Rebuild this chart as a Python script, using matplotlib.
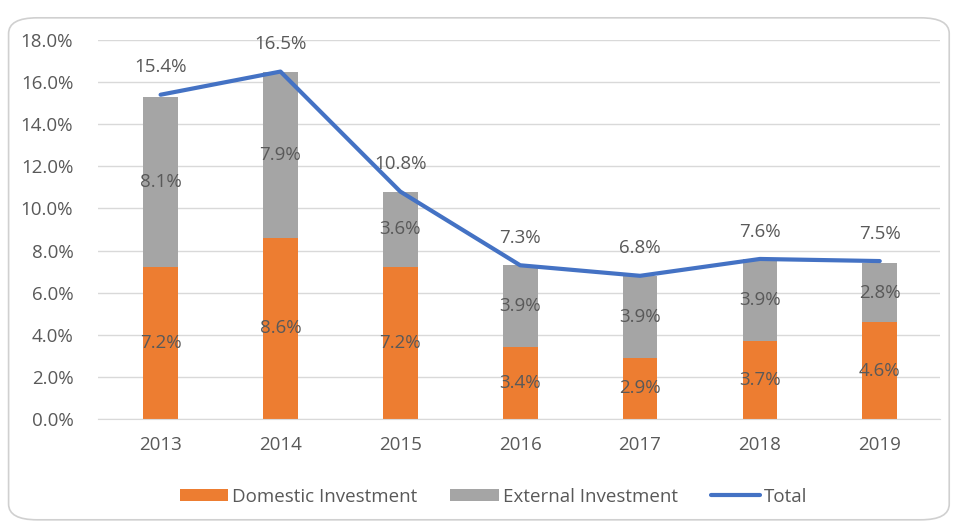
import numpy as np
import matplotlib.pyplot as plt
from matplotlib.patches import FancyBboxPatch

years = ["2013", "2014", "2015", "2016", "2017", "2018", "2019"]
domestic = [7.2, 8.6, 7.2, 3.4, 2.9, 3.7, 4.6]
external = [8.1, 7.9, 3.6, 3.9, 3.9, 3.9, 2.8]
total = [15.4, 16.5, 10.8, 7.3, 6.8, 7.6, 7.5]

orange = "#ED7D31"
grey = "#A5A5A5"
blue = "#4472C4"
txt = "#595959"
fs = 13.5

plt.rcParams["font.family"] = ["Open Sans", "DejaVu Sans"]

fig = plt.figure(figsize=(9.54, 5.24), dpi=100)
# rounded chart frame, kept behind the axes
frame = FancyBboxPatch((0.009, 0.008), 0.986, 0.958, boxstyle="round,pad=0,rounding_size=0.03",
                       transform=fig.transFigure, fc="none", ec="#D0D0D0", lw=1.2, zorder=-1)
fig.patches.append(frame)

ax = fig.add_axes([0.103, 0.2004, 0.882, 0.7233])
ax.set_facecolor("none")
x = np.arange(len(years))
w = 0.29
b1 = ax.bar(x, domestic, w, color=orange, label="Domestic Investment", zorder=2)
b2 = ax.bar(x, external, w, bottom=domestic, color=grey, label="External Investment", zorder=2)
ln, = ax.plot(x, total, color=blue, lw=3, label="Total", zorder=3, solid_capstyle="round")

for i in range(len(years)):
    ax.text(x[i], domestic[i] / 2, f"{domestic[i]:.1f}%", ha="center", va="center",
            fontsize=fs, color=txt, zorder=4)
    ax.text(x[i], domestic[i] + external[i] / 2, f"{external[i]:.1f}%", ha="center",
            va="center", fontsize=fs, color=txt, zorder=4)
    ax.text(x[i], total[i] + 1.3, f"{total[i]:.1f}%", ha="center", va="center",
            fontsize=fs, color=txt, zorder=4)

ax.set_ylim(0, 18)
ax.set_xlim(-0.52, 6.5)
ax.set_yticks(np.arange(0, 18.1, 2))
ax.set_yticklabels([f"{v:.1f}%" for v in np.arange(0, 18.1, 2)])
ax.set_xticks(x)
ax.set_xticklabels(years)
ax.tick_params(axis="both", length=0, labelsize=fs, labelcolor=txt)
ax.tick_params(axis="x", pad=12)
ax.tick_params(axis="y", pad=18)
ax.grid(axis="y", color="#D9D9D9", lw=1, zorder=0)
for s in ["top", "right", "left"]:
    ax.spines[s].set_visible(False)
ax.spines["bottom"].set_color("#D9D9D9")

ax.legend([b1, b2, ln], ["Domestic Investment", "External Investment", "Total"],
          loc="center", bbox_to_anchor=(0.4695, -0.205), ncol=3, frameon=False,
          fontsize=fs, labelcolor=txt, handlelength=2.6, handleheight=0.6,
          columnspacing=1.77, handletextpad=0.2)

fig.savefig("out.png", dpi=100)
